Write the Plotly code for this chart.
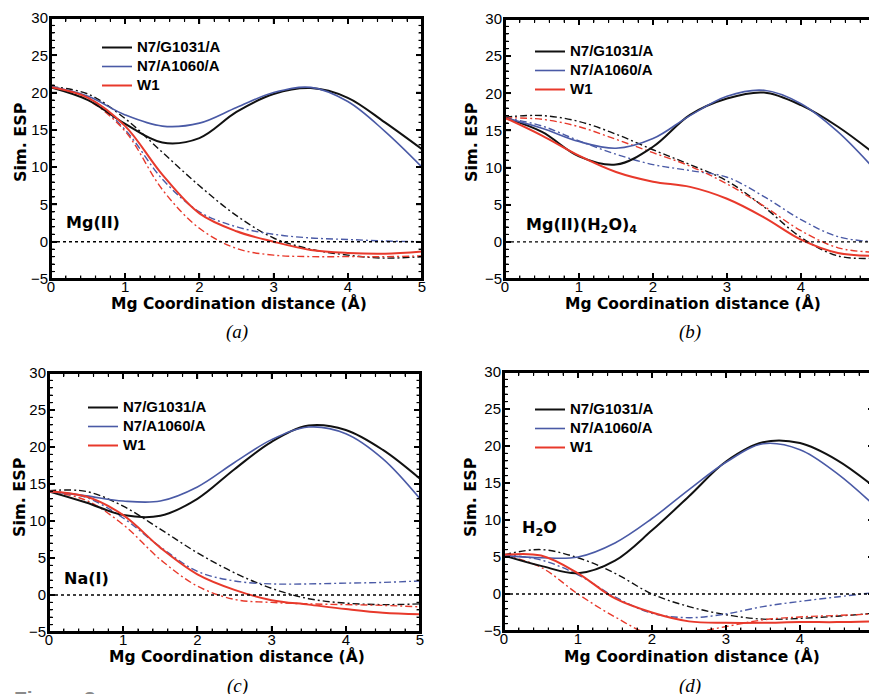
import plotly.graph_objects as go

# ---------------- data ----------------
X = [0.0, 0.5, 1.0, 1.5, 2.0, 2.5, 3.0, 3.5, 4.0, 4.5, 5.0]
SERIES = ["N7/G1031/A", "N7/A1060/A", "W1"]

# panel (a) Mg(II)
a_black = [20.7, 19.0, 15.8, 13.3, 13.9, 17.4, 19.8, 20.6, 19.3, 16.0, 12.4]
a_blue = [20.8, 19.5, 17.0, 15.5, 15.9, 18.0, 20.0, 20.7, 18.8, 14.8, 10.0]
a_red = [20.7, 19.3, 15.5, 9.0, 3.8, 1.4, 0.0, -1.1, -1.5, -1.6, -1.3]
a_black_dd = [20.8, 19.8, 16.5, 12.0, 7.5, 3.5, 0.5, -1.0, -1.8, -2.2, -2.0]
a_blue_dd = [20.8, 19.3, 15.0, 8.4, 4.0, 2.0, 1.0, 0.5, 0.3, 0.1, 0.0]
a_red_dd = [20.8, 19.0, 14.8, 7.0, 1.8, -0.9, -1.8, -2.0, -2.0, -2.0, -1.9]

# panel (b) Mg(II)(H2O)4
b_black = [16.7, 14.8, 11.5, 10.4, 12.8, 17.1, 19.3, 20.1, 18.4, 15.5, 11.8]
b_blue = [16.7, 15.3, 13.5, 12.6, 13.9, 17.0, 19.6, 20.4, 18.6, 14.8, 9.7]
b_red = [16.7, 14.3, 11.6, 9.4, 8.1, 7.4, 5.8, 3.3, 0.3, -1.5, -1.9]
b_black_dd = [16.8, 17.0, 16.2, 14.5, 12.4, 10.4, 8.2, 4.7, 0.6, -1.9, -2.2]
b_blue_dd = [16.7, 15.6, 13.6, 11.8, 10.4, 9.6, 8.7, 6.1, 3.0, 0.7, 0.0]
b_red_dd = [16.7, 16.5, 15.5, 13.8, 12.0, 10.2, 7.8, 4.8, 1.5, -0.8, -1.4]

# panel (c) Na(I)
c_black = [14.0, 12.5, 10.8, 10.7, 13.0, 17.0, 20.7, 22.9, 22.3, 19.6, 15.7]
c_blue = [14.0, 13.4, 12.7, 12.7, 14.6, 17.9, 21.0, 22.7, 21.8, 18.4, 13.0]
c_red = [14.0, 13.3, 10.8, 6.4, 2.8, 0.7, -0.7, -1.3, -1.9, -2.4, -2.6]
c_black_dd = [14.1, 14.0, 12.0, 8.9, 5.7, 3.0, 0.9, -0.5, -1.1, -1.3, -1.2]
c_blue_dd = [14.0, 13.2, 10.4, 6.5, 3.2, 1.9, 1.5, 1.5, 1.6, 1.7, 1.9]
c_red_dd = [14.0, 12.8, 9.5, 4.8, 1.2, -0.6, -1.0, -1.2, -1.3, -1.4, -1.6]

# panel (d) H2O
d_black = [5.2, 3.8, 2.8, 4.5, 8.6, 13.2, 17.9, 20.5, 20.4, 18.1, 14.5]
d_blue = [5.2, 4.9, 5.0, 6.9, 10.2, 14.1, 17.8, 20.3, 19.5, 16.3, 12.0]
d_red = [5.3, 5.2, 2.8, -0.6, -2.5, -3.7, -3.9, -3.9, -3.8, -3.8, -3.7]
d_black_dd = [5.3, 6.0, 4.9, 2.8, 0.0, -1.7, -2.8, -3.4, -3.3, -3.0, -2.6]
d_blue_dd = [5.3, 4.6, 2.6, -0.4, -2.6, -3.2, -2.7, -1.7, -1.0, -0.4, 0.2]
d_red_dd = [5.3, 3.6, 0.0, -3.1, -5.5, -5.3, -4.4, -3.5, -3.1, -2.9, -2.7]

PANEL_LABELS = ["Mg(II)", "Mg(II)(H<sub>2</sub>O)<sub>4</sub>", "Na(I)", "H<sub>2</sub>O"]
CAPTIONS = ["(a)", "(b)", "(c)", "(d)"]
X_TITLE = "Mg Coordination distance (Å)"
Y_TITLE = "Sim. ESP"
X_RANGE = [0, 5]
Y_RANGE = [-5, 30]
X_MAJOR = [0, 1, 2, 3, 4, 5]
Y_MAJOR = [-5, 0, 5, 10, 15, 20, 25, 30]
X_MINOR_STEP = 0.2
Y_MINOR_STEP = 1

panels = [
    (a_black, a_blue, a_red, a_black_dd, a_blue_dd, a_red_dd),
    (b_black, b_blue, b_red, b_black_dd, b_blue_dd, b_red_dd),
    (c_black, c_blue, c_red, c_black_dd, c_blue_dd, c_red_dd),
    (d_black, d_blue, d_red, d_black_dd, d_blue_dd, d_red_dd),
]

# ---------------- style ----------------
PAGE_W, PAGE_H = 877, 694
OFF = 8  # default body margin of the page
W, H = PAGE_W - OFF, PAGE_H - OFF
COLORS = ["#111111", "#4a5aa6", "#e8392b"]
SOLID_W = [2.0, 1.6, 2.0]
DASH = "7px,3px,2px,3px"
TICK_FONT = "Liberation Sans"
TEXT_FONT = "DejaVu Sans"
MAJ_LEN, MIN_LEN = 6, 3.5
BLACK = "rgb(0,0,0)"
NOLINE = dict(width=0, color="rgba(0,0,0,0)")

boxes = [(51, 422, 18, 279), (505, 875, 19, 279), (49, 420, 373, 632), (504, 874, 372, 631)]
legend_pos = [(97, 33), (530, 37), (83, 393), (530, 395)]
label_pos = [(93, 222), (581, 225), (86, 578), (539, 528)]
xtitle_pos = [(239, 303), (693, 303), (237, 656), (692, 656)]
ytitle_pos = [(21, 142), (472, 142), (19, 497), (470, 497)]
caption_pos = [(237, 332), (690, 332), (237, 686), (690, 686)]


def px(x):
    return (x - OFF) / W


def py(y):
    return 1 - (y - OFF) / H


def minor_values(major, step):
    vals = []
    for a, b in zip(major[:-1], major[1:]):
        n = int(round((b - a) / step))
        vals += [a + j * (b - a) / n for j in range(1, n)]
    return vals


X_MINOR = minor_values(X_MAJOR, X_MINOR_STEP)
Y_MINOR = minor_values(Y_MAJOR, Y_MINOR_STEP)

fig = go.Figure()
layout = dict(
    width=W, height=H, margin=dict(l=0, r=0, t=0, b=0),
    paper_bgcolor="white", plot_bgcolor="rgba(0,0,0,0)",
    font=dict(family=TICK_FONT, color="black"),
    showlegend=True,
)
annotations = []
shapes = []

for i, data in enumerate(panels):
    sfx = "" if i == 0 else str(i + 1)
    xa, ya = "x" + sfx, "y" + sfx
    leg = "legend" if i == 0 else "legend" + str(i + 1)
    for k in range(3):
        fig.add_trace(go.Scatter(
            x=X, y=data[3 + k], mode="lines", xaxis=xa, yaxis=ya,
            line=dict(color=COLORS[k], width=1.4, dash=DASH, shape="spline"),
            showlegend=False, hoverinfo="skip"))
    for k in range(3):
        fig.add_trace(go.Scatter(
            x=X, y=data[k], mode="lines", xaxis=xa, yaxis=ya,
            name='<b><span style="font-size:15px">' + SERIES[k] + "</span></b>",
            line=dict(color=COLORS[k], width=SOLID_W[k], shape="spline"),
            legend=leg, showlegend=True))
    l, r, t, b = boxes[i]
    axcommon = dict(showline=True, linecolor=BLACK, linewidth=2, mirror="allticks",
                    ticks="inside", ticklen=MAJ_LEN, tickwidth=1.5, tickcolor=BLACK,
                    showgrid=False, zeroline=False, automargin=False,
                    tickprefix="<b>", ticksuffix="</b>",
                    tickfont=dict(family=TICK_FONT, size=15, color="black"))
    layout["xaxis" + sfx] = dict(
        axcommon, domain=[px(l), px(r)], anchor=ya, range=X_RANGE,
        tickmode="array", tickvals=X_MAJOR, ticklabelstandoff=-7,
        minor=dict(tickvals=X_MINOR, ticks="inside", ticklen=MIN_LEN, tickwidth=1.2, tickcolor=BLACK))
    layout["yaxis" + sfx] = dict(
        axcommon, domain=[py(b), py(t)], anchor=xa, range=Y_RANGE,
        tickmode="array", tickvals=Y_MAJOR, ticklabelstandoff=-2,
        minor=dict(tickvals=Y_MINOR, ticks="inside", ticklen=MIN_LEN, tickwidth=1.2, tickcolor=BLACK))
    lx, ly = legend_pos[i]
    layout[leg] = dict(x=px(lx), y=py(ly), xanchor="left", yanchor="top",
                       bgcolor="rgba(0,0,0,0)", borderwidth=0, tracegroupgap=0,
                       font=dict(family=TICK_FONT, size=12, color="black"))

    # zero reference line
    shapes.append(dict(type="line", xref=xa + " domain", yref=ya, x0=0, x1=1, y0=0, y1=0,
                       line=dict(color=BLACK, width=1.4, dash="dot")))
    # frame drawn as four thin filled bands (fill instead of stroke)
    for yv in Y_RANGE:
        shapes.append(dict(type="rect", xref=xa + " domain", x0=0, x1=1,
                           yref=ya, ysizemode="pixel", yanchor=yv, y0=-1, y1=1,
                           fillcolor=BLACK, line=NOLINE))
    for xv in X_RANGE:
        shapes.append(dict(type="rect", yref=ya + " domain", y0=0, y1=1,
                           xref=xa, xsizemode="pixel", xanchor=xv, x0=-1, x1=1,
                           fillcolor=BLACK, line=NOLINE))
    # ticks on all four sides, pointing inwards, as thin filled bars
    for vals, ln, wd in ((X_MAJOR, MAJ_LEN, 1.5), (X_MINOR, MIN_LEN, 1.2)):
        for v in vals:
            for anchor, sign in ((Y_RANGE[0], 1), (Y_RANGE[1], -1)):
                shapes.append(dict(type="rect", xref=xa, xsizemode="pixel", xanchor=v,
                                   x0=-wd / 2, x1=wd / 2,
                                   yref=ya, ysizemode="pixel", yanchor=anchor,
                                   y0=0, y1=sign * ln, fillcolor=BLACK, line=NOLINE))
    for vals, ln, wd in ((Y_MAJOR, MAJ_LEN, 1.5), (Y_MINOR, MIN_LEN, 1.2)):
        for v in vals:
            for anchor, sign in ((X_RANGE[0], 1), (X_RANGE[1], -1)):
                shapes.append(dict(type="rect", yref=ya, ysizemode="pixel", yanchor=v,
                                   y0=-wd / 2, y1=wd / 2,
                                   xref=xa, xsizemode="pixel", xanchor=anchor,
                                   x0=0, x1=sign * ln, fillcolor=BLACK, line=NOLINE))

    common = dict(xref="paper", yref="paper", showarrow=False, xanchor="center", yanchor="middle")
    annotations.append(dict(common, text="<b>" + PANEL_LABELS[i] + "</b>",
                            x=px(label_pos[i][0]), y=py(label_pos[i][1]),
                            font=dict(family=TEXT_FONT, size=16, color="black")))
    annotations.append(dict(common, text="<b>" + X_TITLE + "</b>",
                            x=px(xtitle_pos[i][0]), y=py(xtitle_pos[i][1]),
                            font=dict(family=TEXT_FONT, size=15.5, color="black")))
    annotations.append(dict(common, text="<b>" + Y_TITLE + "</b>", textangle=-90,
                            x=px(ytitle_pos[i][0]), y=py(ytitle_pos[i][1]),
                            font=dict(family=TEXT_FONT, size=16, color="black")))
    annotations.append(dict(common, text="<i>" + CAPTIONS[i] + "</i>",
                            x=px(caption_pos[i][0]), y=py(caption_pos[i][1]),
                            font=dict(family="Liberation Serif", size=19, color="black")))

annotations.append(dict(text="<b>Figure 3</b>", x=px(12), y=py(698), xref="paper", yref="paper",
                        xanchor="left", yanchor="middle", showarrow=False,
                        font=dict(family=TICK_FONT, size=21, color="#8a8a8a")))

layout["annotations"] = annotations
layout["shapes"] = shapes
fig.update_layout(**layout)
fig.write_html("out.html")
